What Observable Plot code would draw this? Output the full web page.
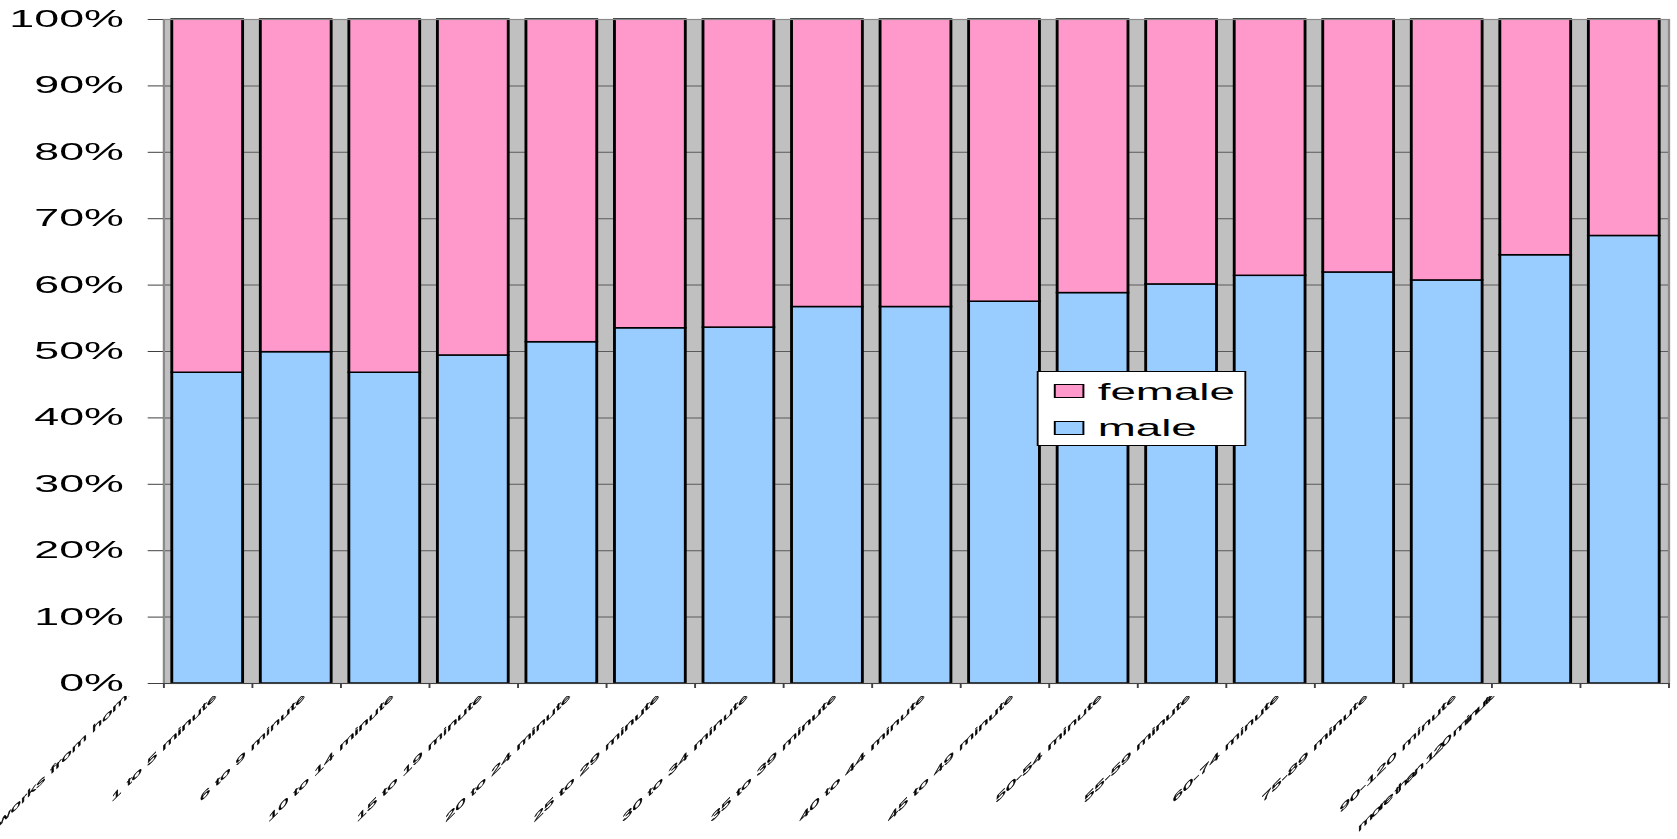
<!DOCTYPE html>
<html>
<head>
<meta charset="utf-8">
<script src="https://cdn.jsdelivr.net/npm/d3@7"></script>
<script src="https://cdn.jsdelivr.net/npm/@observablehq/plot@0.6"></script>
<style>
  html, body { margin: 0; padding: 0; background: #fff; overflow: hidden; }
  #chart {
    position: relative;
    width: 880px;
    height: 839px;
    transform: scaleX(1.90568);
    transform-origin: 0 0;
    font-family: "Liberation Sans", Arial, sans-serif;
  }
  #chart svg { display: block; }
  .legend {
    position: absolute;
    left: 544px; top: 371px;
    width: 108px; height: 73px;
    background: #fff;
    border: 0.8px solid #000;
    font-size: 24px;
    line-height: 24px;
    color: #000;
  }
  .legend .sw {
    position: absolute; left: 8px;
    width: 14px; height: 12px;
    border: 1px solid #000;
  }
  .legend .lab { position: absolute; left: 31px; white-space: nowrap; }
</style>
</head>
<body>
<div id="chart"></div>
<script>
// Commute time categories (tick labels along the x axis)
const categories = [
  "works from home", "1 to 5 minutes", "6 to 9 minutes", "10 to 14 minutes",
  "15 to 19 minutes", "20 to 24 minutes", "25 to 29 minutes", "30 to 34 minutes",
  "35 to 39 minutes", "40 to 44 minutes", "45 to 49 minutes", "50-54 minutes",
  "55-59 minutes", "60-74 minutes", "75-89 minutes", "90-120 minutes",
  "more than 120 minutes"
];
// Share of workers (%) in each bar
const male   = [46.8, 49.9, 46.8, 49.4, 51.4, 53.5, 53.6, 56.7, 56.7, 57.5, 58.8, 60.1, 61.4, 61.9, 60.7, 64.5, 67.4];
const female = [53.2, 50.1, 53.2, 50.6, 48.6, 46.5, 46.4, 43.3, 43.3, 42.5, 41.2, 39.9, 38.6, 38.1, 39.3, 35.5, 32.6];
const yTicks = [0, 10, 20, 30, 40, 50, 60, 70, 80, 90, 100];

const colors = { male: "#99ccff", female: "#ff99cc" };

const bars = male.map((m, i) => ({ i, male: m, female: female[i] }));
// each category label sits one slot to the left of its index
const labels = categories.map((c, j) => ({ slot: j - 1, text: c, last: j === categories.length - 1 }));

const n = bars.length;
const pad = 0.1;
const marginTop = 19, marginBottom = 156, height = 839;
const clipTop = height - marginBottom + 13;
const slant = -62.24; // shear of the category labels

// place sheared category labels under the axis, clipped just below it
function slantedLabels(shiftX, shiftY, spacing) {
  return function (index, scales, values, dimensions, context, next) {
    const g = next(index, scales, values, dimensions, context);
    const y0 = dimensions.height - dimensions.marginBottom;
    if (spacing) g.setAttribute("letter-spacing", spacing);
    g.removeAttribute("transform");
    g.querySelectorAll("text").forEach((t, k) => {
      const x0 = values.x[index[k]];
      t.removeAttribute("x");
      t.removeAttribute("y");
      t.setAttribute("transform", `translate(${x0 + shiftX},${y0 + shiftY}) skewY(${slant})`);
    });
    const id = "xlab-clip-" + Math.random().toString(36).slice(2, 8);
    const outer = d3.create("svg:g");
    outer.append("clipPath").attr("id", id)
      .append("rect").attr("x", -2000).attr("y", clipTop).attr("width", 6000).attr("height", 1000);
    outer.attr("clip-path", `url(#${id})`);
    outer.node().appendChild(g);
    return outer.node();
  };
}

const labelStyle = {
  frameAnchor: "bottom",
  x: d => d.slot + 0.5,
  text: "text",
  textAnchor: "end",
  lineAnchor: "middle",
  fontSize: 9.6,
  fill: "#000",
  stroke: "#000",
  strokeWidth: 0.35
};

const chart = Plot.plot({
  width: 880,
  height,
  marginLeft: 85.5,
  marginRight: 4.7,
  marginTop,
  marginBottom,
  style: { fontFamily: "Liberation Sans, Arial, sans-serif", background: "transparent", overflow: "visible" },
  x: { type: "linear", domain: [0, n] },
  y: { domain: [0, 100] },
  marks: [
    Plot.frame({ fill: "#c0c0c0", stroke: null }),
    Plot.gridY(yTicks, { stroke: "#5a5a5a", strokeOpacity: 1, strokeWidth: 1 }),
    Plot.rectY(bars, {
      x1: d => d.i + pad, x2: d => d.i + 1 - pad,
      y1: 0, y2: "male",
      fill: colors.male, stroke: "#000", strokeWidth: 1.5
    }),
    Plot.rectY(bars, {
      x1: d => d.i + pad, x2: d => d.i + 1 - pad,
      y1: "male", y2: d => d.male + d.female,
      fill: colors.female, stroke: "#000", strokeWidth: 1.5
    }),
    Plot.frame({ stroke: "#8a8a8a", strokeWidth: 1.2 }),
    Plot.ruleY([0], { stroke: "#404040", strokeWidth: 1 }),
    Plot.axisX({ ticks: d3.range(n + 1), tickSize: 5, tickFormat: () => "", stroke: "#404040", label: null }),
    Plot.text(labels.filter(d => !d.last), { ...labelStyle, render: slantedLabels(10, 5, null) }),
    Plot.text(labels.filter(d => d.last), { ...labelStyle, render: slantedLabels(-17, 5, "-1.05") }),
    Plot.axisY({
      ticks: yTicks, tickFormat: d => d + "%",
      tickSize: 8, tickPadding: 13, fontSize: 23.5,
      stroke: "#404040", fill: "#000", label: null
    })
  ]
});

const root = document.getElementById("chart");
root.appendChild(chart);

// legend box drawn over the plot area
const legend = document.createElement("div");
legend.className = "legend";
[["female", 11.5, 8], ["male", 48.5, 43.7]].forEach(([key, swTop, labTop]) => {
  const sw = document.createElement("div");
  sw.className = "sw";
  sw.style.top = swTop + "px";
  sw.style.background = colors[key];
  const lab = document.createElement("div");
  lab.className = "lab";
  lab.style.top = labTop + "px";
  lab.textContent = key;
  legend.appendChild(sw);
  legend.appendChild(lab);
});
root.appendChild(legend);
</script>
</body>
</html>
